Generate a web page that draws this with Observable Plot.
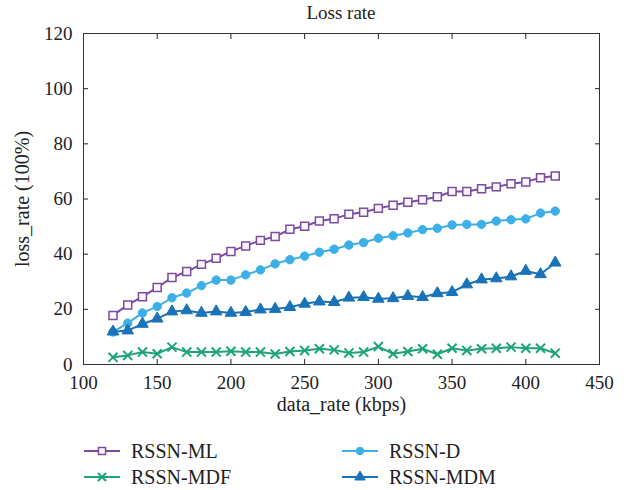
<!DOCTYPE html>
<html><head><meta charset="utf-8">
<script src="https://cdn.jsdelivr.net/npm/d3@7"></script>
<script src="https://cdn.jsdelivr.net/npm/@observablehq/plot@0.6"></script>
<style>
body{margin:0;background:#fff;font-family:"Liberation Serif","Times New Roman",serif;color:#222}
#title{width:627px;box-sizing:border-box;padding-left:83px;padding-right:28px;text-align:center;height:24px;line-height:25px;font-size:19px}
#legend{position:relative;width:627px;height:66px}
.item{position:absolute;display:flex;align-items:center;font-size:20px;height:24px}
.item svg{margin-right:11px}
</style></head><body>
<div id="title">Loss rate</div>
<div id="chart"></div>
<div id="legend"></div>
<script>
const dataRate = [120,130,140,150,160,170,180,190,200,210,220,230,240,250,260,270,280,290,300,310,320,330,340,350,360,370,380,390,400,410,420];
const rssnML  = [17.8,21.6,24.6,27.9,31.5,33.7,36.3,38.5,41.0,43.0,45.0,46.4,49.0,50.1,52.0,52.8,54.5,55.2,56.6,57.7,58.8,59.7,60.8,62.7,62.7,63.7,64.4,65.5,66.2,67.7,68.3];
const rssnD   = [11.8,15.0,18.7,21.0,24.2,25.9,28.6,30.6,30.6,32.5,34.3,36.5,38.0,39.3,40.7,41.8,43.3,44.2,45.8,46.7,47.7,48.9,49.4,50.6,50.8,50.8,52.0,52.5,52.8,54.9,55.6];
const rssnMDF = [2.6,3.3,4.5,3.9,6.3,4.5,4.5,4.5,4.8,4.5,4.5,3.8,4.7,5.1,5.7,5.3,4.2,4.5,6.5,3.9,4.7,5.7,3.7,5.9,5.1,5.7,5.9,6.3,5.9,5.9,4.1];
const rssnMDM = [11.9,12.3,14.7,16.6,19.2,19.6,18.7,19.2,18.7,19.0,19.9,20.1,20.8,22.0,22.8,22.6,24.2,24.4,23.8,24.0,24.8,24.4,25.8,26.2,29.0,30.8,31.2,31.9,33.9,32.7,36.9];
const seriesNames = ["RSSN-ML","RSSN-D","RSSN-MDF","RSSN-MDM"];
const xTicks = [100,150,200,250,300,350,400,450];
const yTicks = [0,20,40,60,80,100,120];
const xLabel = "data_rate (kbps)";
const yLabel = "loss_rate (100%)";

const styles = {
  "RSSN-ML":  {color:"#7b4ba2", symbol:"square",   fill:"#fbf8fd", r:4.5, sw:1.5},
  "RSSN-D":   {color:"#3cb0e6", symbol:"circle",   fill:"#3cb0e6", r:4.2, sw:1},
  "RSSN-MDF": {color:"#1ea37b", symbol:"times",    fill:"none",    r:4.2, sw:2},
  "RSSN-MDM": {color:"#1a72b8", symbol:"triangle", fill:"#1a72b8", r:4.3, sw:1}
};
const values = {"RSSN-ML":rssnML,"RSSN-D":rssnD,"RSSN-MDF":rssnMDF,"RSSN-MDM":rssnMDM};
const order = ["RSSN-ML","RSSN-D","RSSN-MDM","RSSN-MDF"];

const marks = [];
for (const name of order) {
  const rows = dataRate.map((x,i)=>({x, y: values[name][i]}));
  const s = styles[name];
  marks.push(Plot.line(rows,{x:"x",y:"y",stroke:s.color,strokeWidth:2}));
  marks.push(Plot.dot(rows,{x:"x",y:"y",symbol:s.symbol,r:s.r,stroke:s.color,fill:s.fill,strokeWidth:s.sw}));
}

const serif = "'Liberation Serif', 'Times New Roman', serif";
const plot = Plot.plot({
  width:627, height:400,
  marginLeft:83, marginRight:28, marginTop:9, marginBottom:60,
  style:{fontFamily:serif, fontSize:"19px", color:"#222", background:"#fff"},
  x:{domain:[100,450]},
  y:{domain:[0,120]},
  marks:[
    Plot.axisX({anchor:"bottom", ticks:xTicks, tickSize:-5, tickPadding:16, fontFamily:serif, label:null}),
    Plot.axisX({anchor:"top", ticks:xTicks, tickSize:-5, tickFormat:()=>"", label:null}),
    Plot.axisY({anchor:"left", ticks:yTicks, tickSize:-5, tickPadding:16, fontFamily:serif, label:null}),
    Plot.axisY({anchor:"right", ticks:yTicks, tickSize:-5, tickFormat:()=>"", label:null}),
    Plot.text([xLabel], {text:d=>d, frameAnchor:"bottom", dy:46, fontSize:20, fontFamily:serif, fill:"#222"}),
    Plot.text([yLabel], {text:d=>d, frameAnchor:"left", dx:-61, rotate:-90, textAnchor:"middle", lineAnchor:"middle", fontSize:20, fontFamily:serif, fill:"#222"}),
    ...marks,
    Plot.frame({stroke:"#333", strokeWidth:1})
  ]
});
document.getElementById("chart").appendChild(plot);

// legend
const legend = document.getElementById("legend");
const pos = {"RSSN-ML":[84,15],"RSSN-D":[342,15],"RSSN-MDF":[84,41],"RSSN-MDM":[342,41]};
for (const name of seriesNames) {
  const s = styles[name];
  const item = document.createElement("div");
  item.className = "item";
  item.style.left = pos[name][0]+"px";
  item.style.top = pos[name][1]+"px";
  const sym = {square:d3.symbolSquare,circle:d3.symbolCircle,times:d3.symbolTimes,triangle:d3.symbolTriangle}[s.symbol];
  const path = d3.symbol(sym, Math.PI*s.r*s.r*0.8)();
  item.innerHTML = `<svg width="36" height="14"><line x1="0" x2="36" y1="7" y2="7" stroke="${s.color}" stroke-width="2"/><path transform="translate(18,7)" d="${path}" stroke="${s.color}" fill="${s.fill}" stroke-width="${s.sw}"/></svg><span>${name}</span>`;
  legend.appendChild(item);
}
</script>
</body></html>
